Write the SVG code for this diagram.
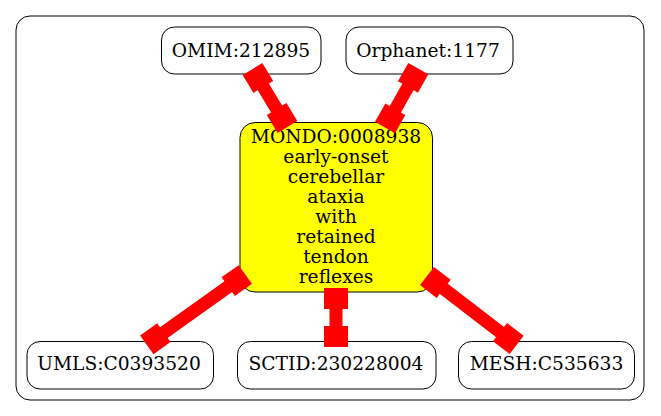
<svg xmlns="http://www.w3.org/2000/svg" width="661" height="416" viewBox="0 0 661 416">
<style>
.node rect{fill:#fff;stroke:#000;stroke-width:1}
.node text,.lbl{font-family:"DejaVu Serif",serif;font-size:18.67px;fill:#000;text-anchor:middle}
.edge rect{fill:#f00}
</style>
<rect x="16" y="16" width="628" height="384" rx="14" fill="none" stroke="#000" stroke-width="1"/>
<g id="OMIM_212895" class="node"><rect x="161.5" y="27" width="159.5" height="47" rx="13"/><text x="241" y="56.7">OMIM:212895</text></g>
<g id="Orphanet_1177" class="node"><rect x="346" y="27" width="167" height="47" rx="13"/><text x="428" y="56.7">Orphanet:1177</text></g>
<g id="MONDO_0008938" class="node"><rect x="240" y="122.5" width="192.5" height="169.5" rx="15" style="fill:#ff0"/>
<text class="lbl" x="336" y="142.5">MONDO:0008938</text>
<text class="lbl" x="336" y="162.5">early-onset</text>
<text class="lbl" x="336" y="182.5">cerebellar</text>
<text class="lbl" x="336" y="202.5">ataxia</text>
<text class="lbl" x="336" y="222.5">with</text>
<text class="lbl" x="336" y="242.5">retained</text>
<text class="lbl" x="336" y="262.5">tendon</text>
<text class="lbl" x="336" y="282.5">reflexes</text></g>
<g id="UMLS_C0393520" class="node"><rect x="27" y="341.5" width="186.5" height="47.5" rx="13"/><text x="119" y="370">UMLS:C0393520</text></g>
<g id="SCTID_230228004" class="node"><rect x="237.5" y="341.5" width="198.5" height="47.5" rx="13"/><text x="336" y="370">SCTID:230228004</text></g>
<g id="MESH_C535633" class="node"><rect x="458.5" y="341.5" width="176" height="47.5" rx="13"/><text x="546.5" y="370">MESH:C535633</text></g>
<g id="edges" class="edge">
<g transform="translate(252.5,69) rotate(58.9)"><rect x="0" y="-11.5" width="21" height="23"/><rect x="20" y="-6.5" width="27.7" height="13"/><rect x="46.7" y="-11.5" width="21" height="23"/></g>
<g transform="translate(418.3,68.7) rotate(119.5)"><rect x="0" y="-11.5" width="21" height="23"/><rect x="20" y="-6.5" width="27.6" height="13"/><rect x="46.6" y="-11.5" width="21" height="23"/></g>
<g transform="translate(245.3,274.5) rotate(144.5)"><rect x="0" y="-11.5" width="21" height="23"/><rect x="20" y="-6.5" width="81" height="13"/><rect x="100" y="-11.5" width="21" height="23"/></g>
<g transform="translate(336,288) rotate(90)"><rect x="0" y="-12" width="21" height="24"/><rect x="20" y="-6.5" width="19" height="13"/><rect x="38" y="-12" width="21" height="24"/></g>
<g transform="translate(427,276) rotate(37.5)"><rect x="0" y="-11.5" width="21" height="23"/><rect x="20" y="-6.5" width="73" height="13"/><rect x="92" y="-11.5" width="21" height="23"/></g>
</g>
</svg>
